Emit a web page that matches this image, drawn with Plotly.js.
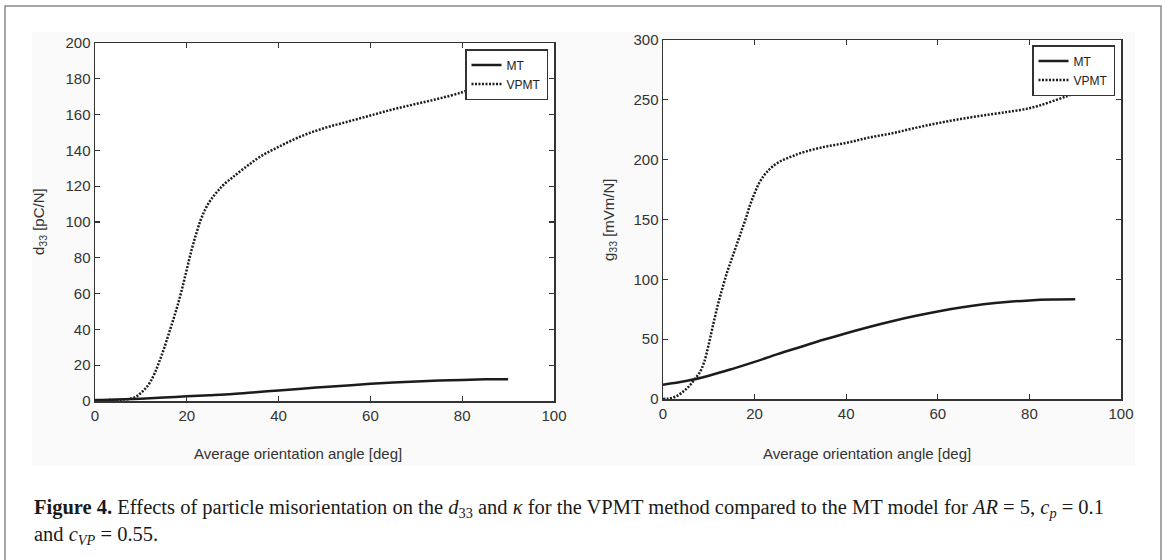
<!DOCTYPE html>
<html>
<head>
<meta charset="utf-8">
<script src="https://cdn.plot.ly/plotly-3.0.1.min.js"></script>
<style>html,body{margin:0;padding:0;background:#fff;}#chart{width:1165px;height:560px;}</style>
</head>
<body>
<div id="chart"></div>
<script>
// ---- data ----
const d33_vpmt_x = [0, 3, 6, 8, 9, 10, 11, 12, 13, 14, 15, 16, 17, 18, 19, 20, 21, 22, 23, 24, 25, 26, 27, 28, 30, 33, 36, 40, 45, 50, 55, 60, 65, 70, 75, 80, 83, 85, 87, 90];
const d33_vpmt_y = [0.3, 0.5, 0.8, 1.5, 2.5, 4.5, 7, 10.5, 15.5, 22, 29, 37, 45, 53.5, 63, 73.5, 84, 93, 101, 107, 111.5, 115, 118, 120.8, 125, 131, 136.5, 142, 148, 152.5, 156, 159.5, 163, 166, 169, 172.5, 175.5, 178.5, 182, 188];
const d33_mt_x = [0, 5, 10, 15, 20, 25, 30, 35, 40, 45, 50, 55, 60, 65, 70, 75, 80, 85, 90];
const d33_mt_y = [0.5, 0.8, 1.3, 1.9, 2.6, 3.2, 3.9, 4.9, 5.9, 6.9, 7.8, 8.7, 9.6, 10.3, 10.9, 11.4, 11.8, 12.1, 12.2];

const g33_vpmt_x = [0, 1, 2, 3, 4, 5, 6, 7, 8, 9, 10, 11, 12, 13, 14, 15, 16, 17, 18, 19, 20, 21, 22, 23, 24, 26, 28, 30, 35, 40, 45, 50, 55, 60, 65, 70, 75, 78, 80, 82, 85, 88, 90];
const g33_vpmt_y = [0, 0.3, 1, 2.5, 5, 8, 12, 17, 22, 31, 46, 63, 79, 93, 106, 117, 128, 139, 150, 162, 172, 180.5, 186.5, 191, 194.5, 199.5, 202.5, 205.5, 210.5, 214, 218.5, 222, 226.5, 230.5, 234, 237, 239.8, 241.5, 243, 245, 248.8, 252.8, 255.5];
const g33_mt_x = [0, 5, 10, 15, 20, 25, 30, 35, 40, 45, 50, 55, 60, 65, 70, 75, 80, 85, 90];
const g33_mt_y = [12, 15, 19.5, 25, 31, 37.5, 43.5, 49.5, 55, 60.2, 65, 69.3, 73.1, 76.4, 79.1, 81.1, 82.4, 83.1, 83.3];

const seriesNames = ["MT", "VPMT"];
const xTickVals = [0, 20, 40, 60, 80, 100];
const xTitle = "Average orientation angle [deg]";
const yTitleLeft = "d<sub>33</sub> [pC/N]";
const yTitleRight = "g<sub>33</sub> [mVm/N]";
const captionText = "<b>Figure 4.</b> Effects of particle misorientation on the <i>d</i><sub>33</sub> and <i>κ</i> for the VPMT method compared to the MT model for <i>AR</i> = 5, <i>c<sub>p</sub></i> = 0.1<br>and <i>c<sub>VP</sub></i> = 0.55.";

// ---- layout helpers ----
const W = 1165, H = 560;
const px = v => v / W;
const py = v => 1 - v / H;
const lineCol = '#1c1c1c';
const axisCol = '#333333';
const sans = 'Liberation Sans, Arial, sans-serif';

const traces = [
  {x: d33_mt_x, y: d33_mt_y, name: seriesNames[0], mode: 'lines', line: {color: lineCol, width: 2.5, shape: 'spline'}, xaxis: 'x', yaxis: 'y', legend: 'legend'},
  {x: d33_vpmt_x, y: d33_vpmt_y, name: seriesNames[1], mode: 'lines', line: {color: lineCol, width: 2.5, dash: '2px,1.5px', shape: 'spline'}, xaxis: 'x', yaxis: 'y', legend: 'legend'},
  {x: g33_mt_x, y: g33_mt_y, name: seriesNames[0], mode: 'lines', line: {color: lineCol, width: 2.5, shape: 'spline'}, xaxis: 'x2', yaxis: 'y2', legend: 'legend2'},
  {x: g33_vpmt_x, y: g33_vpmt_y, name: seriesNames[1], mode: 'lines', line: {color: lineCol, width: 2.5, dash: '2px,1.5px', shape: 'spline'}, xaxis: 'x2', yaxis: 'y2', legend: 'legend2'}
];

const axisBase = {
  showline: true, mirror: 'ticks', linecolor: axisCol, linewidth: 1.5,
  ticks: 'inside', ticklen: 5, tickwidth: 1.2, tickcolor: axisCol,
  showgrid: false, zeroline: false,
  tickfont: {family: sans, size: 15, color: axisCol}
};

const legendBase = {
  xanchor: 'right', yanchor: 'top', bgcolor: '#ffffff', bordercolor: axisCol, borderwidth: 1.5,
  font: {family: sans, size: 12, color: '#222'}, tracegroupgap: 0, itemwidth: 30
};

const layout = {
  width: W, height: H,
  margin: {l: 0, r: 0, t: 0, b: 0},
  paper_bgcolor: '#ffffff', plot_bgcolor: '#ffffff',
  showlegend: true,
  xaxis: Object.assign({}, axisBase, {domain: [px(95), px(554)], range: [0, 100], tickvals: xTickVals, anchor: 'y'}),
  yaxis: Object.assign({}, axisBase, {domain: [py(401), py(43)], range: [0, 200], dtick: 20, anchor: 'x'}),
  xaxis2: Object.assign({}, axisBase, {domain: [px(663), px(1121)], range: [0, 100], tickvals: xTickVals, anchor: 'y2'}),
  yaxis2: Object.assign({}, axisBase, {domain: [py(399), py(40)], range: [0, 300], dtick: 50, anchor: 'x2'}),
  legend: Object.assign({}, legendBase, {x: px(548), y: py(49)}),
  legend2: Object.assign({}, legendBase, {x: px(1115), y: py(45)}),
  shapes: [
    {type: 'rect', xref: 'paper', yref: 'paper', x0: px(5), x1: px(1161), y0: -0.05, y1: py(6), line: {color: '#8a8a8a', width: 1.5}, fillcolor: 'rgba(0,0,0,0)', layer: 'below'},
    {type: 'rect', xref: 'paper', yref: 'paper', x0: px(32), x1: px(1135), y0: py(466), y1: py(32), line: {width: 0}, fillcolor: '#fafafa', layer: 'below'},
    {type: 'rect', xref: 'x domain', yref: 'y domain', x0: 0, x1: 1, y0: 0, y1: 1, line: {width: 0}, fillcolor: '#ffffff', layer: 'below'},
    {type: 'rect', xref: 'x2 domain', yref: 'y2 domain', x0: 0, x1: 1, y0: 0, y1: 1, line: {width: 0}, fillcolor: '#ffffff', layer: 'below'}
  ],
  annotations: [
    {text: xTitle, xref: 'paper', yref: 'paper', x: px(298), y: py(453), xanchor: 'center', yanchor: 'middle', showarrow: false, font: {family: sans, size: 15, color: axisCol}},
    {text: xTitle, xref: 'paper', yref: 'paper', x: px(867), y: py(453), xanchor: 'center', yanchor: 'middle', showarrow: false, font: {family: sans, size: 15, color: axisCol}},
    {text: yTitleLeft, xref: 'paper', yref: 'paper', x: px(40), y: py(222), xanchor: 'center', yanchor: 'middle', textangle: -90, showarrow: false, font: {family: sans, size: 15, color: axisCol}},
    {text: yTitleRight, xref: 'paper', yref: 'paper', x: px(610), y: py(220), xanchor: 'center', yanchor: 'middle', textangle: -90, showarrow: false, font: {family: sans, size: 15, color: axisCol}},
    {text: captionText, xref: 'paper', yref: 'paper', x: px(32), y: py(494), xanchor: 'left', yanchor: 'top', align: 'left', showarrow: false, font: {family: 'Liberation Serif, Times New Roman, serif', size: 20.5, color: '#1a1a1a'}}
  ]
};

Plotly.newPlot('chart', traces, layout, {displayModeBar: false, staticPlot: true});
</script>
</body>
</html>
